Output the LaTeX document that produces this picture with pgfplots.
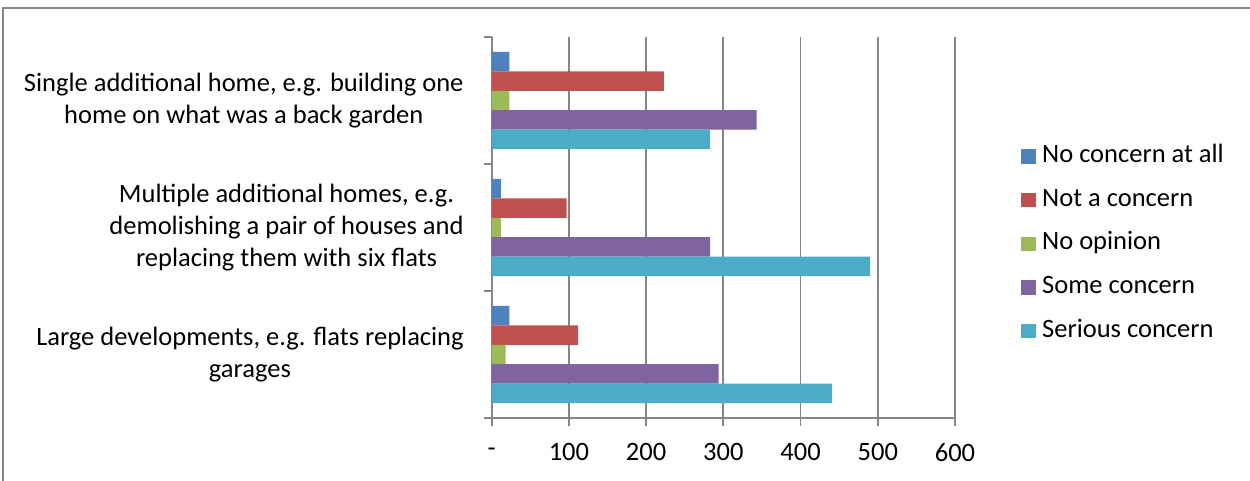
\documentclass[border=0pt]{standalone}
\usepackage{fontspec}
\setmainfont{Carlito}
\usepackage{pgfplots}
\pgfplotsset{compat=1.18}
\definecolor{s1}{HTML}{4F81BD}
\definecolor{s2}{HTML}{C0504D}
\definecolor{s3}{HTML}{9BBB59}
\definecolor{s4}{HTML}{8064A2}
\definecolor{s5}{HTML}{4BACC6}
\definecolor{gridgray}{HTML}{868686}
\begin{document}
\begin{tikzpicture}[x=0.5pt,y=0.5pt]
\path[use as bounding box] (0,0) rectangle (1250,481);
\draw[gridgray, line width=0.8pt] (3,-5) -- (3,473) -- (1255,473);
\begin{axis}[
  at={(245.85pt,31.5pt)}, anchor=south west,
  scale only axis, width=231.65pt, height=190.5pt,
  xbar, bar width=0.153,
  xmin=0, xmax=600, ymin=-0.5, ymax=2.5,
  xtick={0,100,...,600}, xticklabels={-,100,200,300,400,500,600},
  ytick={-0.5,0.5,1.5,2.5}, yticklabels={},
  extra y ticks={0,1,2},
  extra y tick labels={{Large developments, e.g. flats replacing\\garages},{Multiple additional homes, e.g.\\demolishing a pair of houses and\\replacing them with six flats},{Single additional home, e.g. building one\\home on what was a back garden}},
  extra y tick style={grid=none, major tick length=0pt, yticklabel style={anchor=east, xshift=-13.85pt, inner sep=0pt, align=center, font=\fontsize{13.25}{16.2}\selectfont}},
  axis x line*=bottom, axis y line*=left,
  xmajorgrids, major grid style={gridgray, line width=0.9pt},
  axis line style={gridgray, line width=0.9pt},
  tick style={gridgray, line width=0.9pt},
  tick align=outside, major tick length=4pt,
  xticklabel style={anchor=center, yshift=-13.2pt, inner sep=0pt, font=\fontsize{13.25}{16}\selectfont},
  legend style={at={(1.142,0.457)}, anchor=west, draw=none, fill=none, inner sep=0pt,
    font=\fontsize{13.25}{16}\selectfont, row sep=9.85pt,
    nodes={inner sep=0pt, text height=9pt, text depth=3pt}},
  legend cell align=left,
  legend image code/.code={\fill[#1,draw=none] (0pt,-3.6pt) rectangle (7.2pt,3.6pt); \path (10.5pt,0);},
]
\addplot[fill=s1, draw=none, bar shift=0.306] coordinates {(23,0) (12,1) (23,2)};
\addlegendentry{No concern at all}
\addplot[fill=s2, draw=none, bar shift=0.153] coordinates {(112,0) (97,1) (223,2)};
\addlegendentry{Not a concern}
\addplot[fill=s3, draw=none, bar shift=0] coordinates {(18,0) (12,1) (23,2)};
\addlegendentry{No opinion}
\addplot[fill=s4, draw=none, bar shift=-0.153] coordinates {(294,0) (283,1) (343,2)};
\addlegendentry{Some concern}
\addplot[fill=s5, draw=none, bar shift=-0.306] coordinates {(441,0) (490,1) (283,2)};
\addlegendentry{Serious concern}
\end{axis}
\end{tikzpicture}
\end{document}
